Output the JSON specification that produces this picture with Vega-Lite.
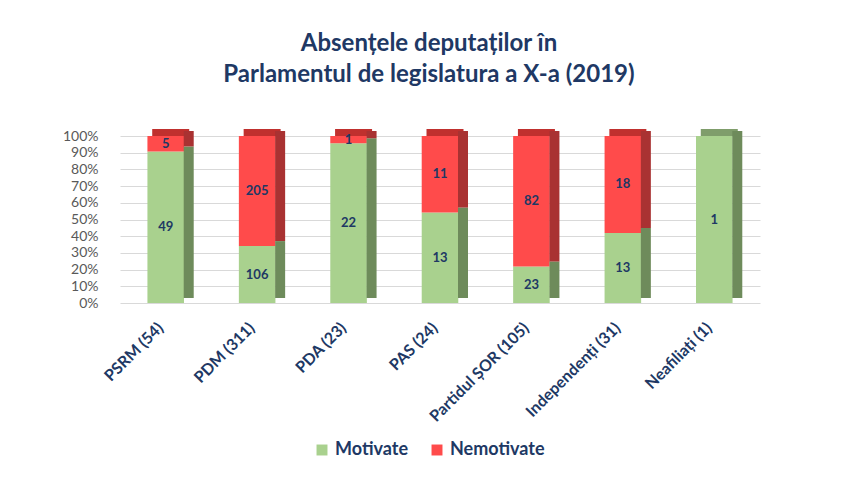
{
  "$schema": "https://vega.github.io/schema/vega-lite/v6.json",
  "autosize": {"type": "none"},
  "width": 640,
  "height": 167,
  "padding": {"left": 120, "top": 136, "right": 96, "bottom": 191},
  "background": "white",
  "title": {
    "text": ["Absențele deputaților în", "Parlamentul de legislatura a X-a (2019)"],
    "font": "Lato",
    "fontSize": 24,
    "fontWeight": "bold",
    "color": "#203864",
    "anchor": "middle",
    "dx": -11,
    "offset": 42,
    "lineHeight": 31
  },
  "data": {
    "values": [
      {"partid": "PSRM (54)", "tip": "Motivate", "n": 49},
      {"partid": "PSRM (54)", "tip": "Nemotivate", "n": 5},
      {"partid": "PDM (311)", "tip": "Motivate", "n": 106},
      {"partid": "PDM (311)", "tip": "Nemotivate", "n": 205},
      {"partid": "PDA (23)", "tip": "Motivate", "n": 22},
      {"partid": "PDA (23)", "tip": "Nemotivate", "n": 1},
      {"partid": "PAS (24)", "tip": "Motivate", "n": 13},
      {"partid": "PAS (24)", "tip": "Nemotivate", "n": 11},
      {"partid": "Partidul ȘOR (105)", "tip": "Motivate", "n": 23},
      {"partid": "Partidul ȘOR (105)", "tip": "Nemotivate", "n": 82},
      {"partid": "Independenți (31)", "tip": "Motivate", "n": 13},
      {"partid": "Independenți (31)", "tip": "Nemotivate", "n": 18},
      {"partid": "Neafiliați (1)", "tip": "Motivate", "n": 1}
    ]
  },
  "transform": [
    {"stack": "n", "groupby": ["partid"], "as": ["y0", "y1"], "offset": "normalize", "sort": [{"field": "tip", "order": "ascending"}]},
    {"calculate": "(datum.y0 + datum.y1) / 2", "as": "ymid"}
  ],
  "encoding": {
    "x": {
      "field": "partid",
      "type": "nominal",
      "sort": null,
      "scale": {"paddingInner": 0.6, "paddingOuter": 0.3},
      "axis": {
        "title": null,
        "labelAngle": -45,
        "labelAlign": "right",
        "labelBaseline": "middle",
        "labelOffset": -5,
        "labelPadding": 22,
        "labelFont": "Lato",
        "labelFontSize": 16,
        "labelFontWeight": "bold",
        "labelColor": "#203864",
        "domain": false,
        "ticks": false,
        "grid": false
      }
    }
  },
  "layer": [
    {
      "transform": [{"filter": "datum.y1 > 0.999"}],
      "mark": {"type": "bar", "stroke": null, "width": 37, "xOffset": 5, "y2Offset": -7},
      "encoding": {
        "y": {
          "field": "y1",
          "type": "quantitative",
          "axis": {
            "title": null,
            "format": "%",
            "values": [0, 0.1, 0.2, 0.3, 0.4, 0.5, 0.6, 0.7, 0.8, 0.9, 1],
            "labelOverlap": false,
            "labelFont": "Lato",
            "labelFontSize": 14,
            "labelColor": "#595959",
            "labelPadding": 22,
            "domain": false,
            "ticks": false,
            "gridColor": "#D9D9D9",
            "gridWidth": 1
          }
        },
        "y2": {"field": "y1"},
        "color": {
          "field": "tip",
          "type": "nominal",
          "scale": {"domain": ["Motivate", "Nemotivate"], "range": ["#7F9D6B", "#C0302E"]},
          "legend": null
        }
      }
    },
    {
      "mark": {"type": "bar", "stroke": null},
      "encoding": {
        "y": {
          "field": "y0",
          "type": "quantitative",
          "scale": {"domain": [0, 1]},
          "axis": {
            "title": null,
            "format": "%",
            "values": [0, 0.1, 0.2, 0.3, 0.4, 0.5, 0.6, 0.7, 0.8, 0.9, 1],
            "labelOverlap": false,
            "labelFont": "Lato",
            "labelFontSize": 14,
            "labelColor": "#595959",
            "labelPadding": 22,
            "domain": false,
            "ticks": false,
            "gridColor": "#D9D9D9",
            "gridWidth": 1
          }
        },
        "y2": {"field": "y1"},
        "color": {
          "field": "tip",
          "type": "nominal",
          "scale": {"domain": ["Motivate", "Nemotivate"], "range": ["#A9D18E", "#FF4B4B"]},
          "legend": {
            "title": null,
            "orient": "none",
            "legendX": 193,
            "legendY": 305,
            "direction": "horizontal",
            "symbolType": "square",
            "symbolSize": 120,
            "symbolStrokeWidth": 0,
            "labelFont": "Lato",
            "labelFontSize": 18,
            "labelFontWeight": "bold",
            "labelColor": "#203864",
            "columnPadding": 20
          }
        }
      }
    },
    {
      "mark": {"type": "bar", "stroke": null, "width": 10, "xOffset": 23, "yOffset": -5, "y2Offset": -5},
      "encoding": {
        "y": {
          "field": "y0",
          "type": "quantitative",
          "axis": {
            "title": null,
            "format": "%",
            "values": [0, 0.1, 0.2, 0.3, 0.4, 0.5, 0.6, 0.7, 0.8, 0.9, 1],
            "labelOverlap": false,
            "labelFont": "Lato",
            "labelFontSize": 14,
            "labelColor": "#595959",
            "labelPadding": 22,
            "domain": false,
            "ticks": false,
            "gridColor": "#D9D9D9",
            "gridWidth": 1
          }
        },
        "y2": {"field": "y1"},
        "color": {
          "field": "tip",
          "type": "nominal",
          "scale": {"domain": ["Motivate", "Nemotivate"], "range": ["#6E8B5B", "#A93232"]},
          "legend": null
        }
      }
    },
    {
      "mark": {"type": "text", "font": "Lato", "fontSize": 13, "fontWeight": "bold", "color": "#203864"},
      "encoding": {
        "y": {
          "field": "ymid",
          "type": "quantitative",
          "axis": {
            "title": null,
            "format": "%",
            "values": [0, 0.1, 0.2, 0.3, 0.4, 0.5, 0.6, 0.7, 0.8, 0.9, 1],
            "labelOverlap": false,
            "labelFont": "Lato",
            "labelFontSize": 14,
            "labelColor": "#595959",
            "labelPadding": 22,
            "domain": false,
            "ticks": false,
            "gridColor": "#D9D9D9",
            "gridWidth": 1
          }
        },
        "text": {"field": "n", "type": "quantitative"}
      }
    }
  ],
  "resolve": {"scale": {"color": "independent"}},
  "config": {"view": {"stroke": null}}
}
